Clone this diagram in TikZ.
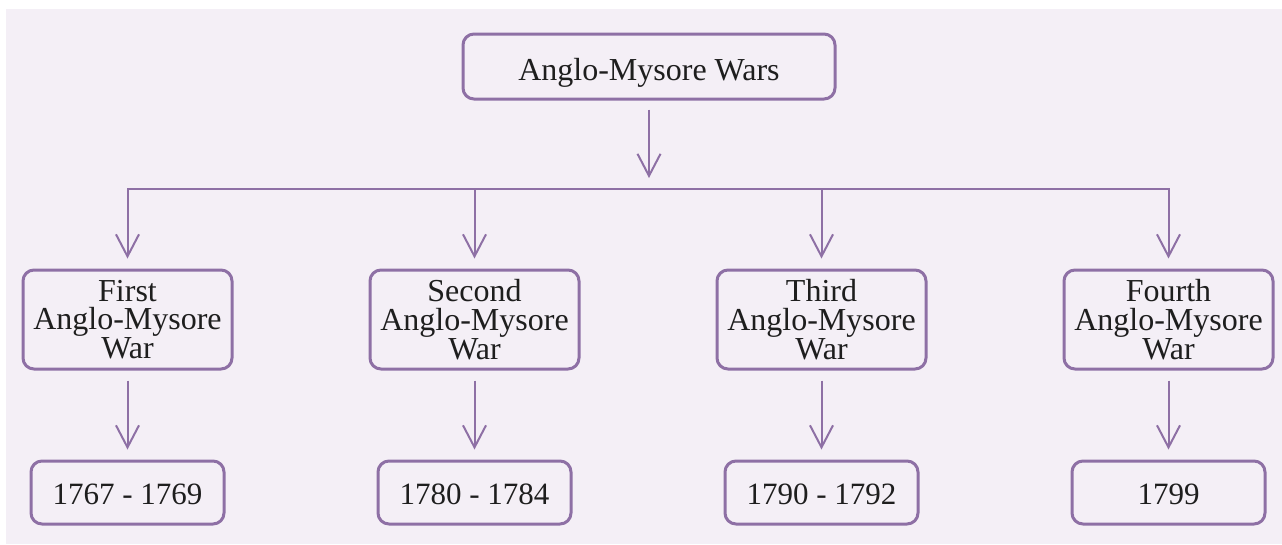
\documentclass[tikz,border=0pt]{standalone}
\usepackage{fontspec}
\setmainfont{Liberation Serif}
\usetikzlibrary{arrows.meta}
\definecolor{bgc}{RGB}{244,239,246}
\definecolor{pur}{RGB}{142,112,165}
\definecolor{txt}{RGB}{30,30,30}
\tikzset{
  box/.style={draw=pur, line width=3pt, rounded corners=11pt, fill=bgc, inner sep=0pt,
    align=center, text=txt, font=\fontsize{32}{28.7}\selectfont},
  conn/.style={draw=pur, line width=2pt},
  arr/.style={conn, -{Straight Barb[length=22pt,width=23pt,line width=2pt]}}
}
\begin{document}
\begin{tikzpicture}[x=1pt,y=-1pt]
\useasboundingbox (0,0) rectangle (1282,544);
\fill[bgc] (6,9) rectangle (1282,544);
\node[box, minimum width=372pt, minimum height=65pt, text height=29pt, text depth=2pt] (top) at (649,66.5) {Anglo-Mysore Wars};
\foreach \i/\x/\name/\yr in {1/127.5/First/1767 - 1769, 2/474.5/Second/1780 - 1784, 3/821.5/Third/1790 - 1792, 4/1168.5/Fourth/1799}{
  \node[box, minimum width=209pt, minimum height=99pt] (w\i) at (\x,319.5) {\name\\Anglo-Mysore\\War};
  \node[box, minimum width=193pt, minimum height=63pt, font=\fontsize{31}{28.7}\selectfont, text height=25pt, text depth=2pt] (y\i) at (\x,492.5) {\yr};
  \coordinate (h\i) at (\x,189);
}
\coordinate (hc) at (649,189);
\draw[arr] ([yshift=-9pt]top.south) -- ([yshift=11pt]hc);
\draw[conn] (h1) -- (h4);
\foreach \i in {1,...,4}{
  \draw[arr] ([yshift=1pt]h\i) -- ([yshift=10pt]w\i.north);
  \draw[arr] ([yshift=-10pt]w\i.south) -- ([yshift=10pt]y\i.north);
}
\end{tikzpicture}
\end{document}
